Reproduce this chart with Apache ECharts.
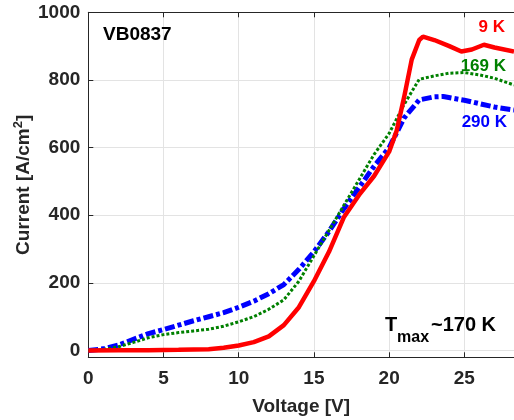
<!DOCTYPE html>
<html>
<head>
<meta charset="utf-8">
<script src="https://cdn.jsdelivr.net/npm/echarts@6/dist/echarts.min.js"></script>
<style>html,body{margin:0;padding:0;background:#fff;}#c{width:514px;height:420px;}</style>
</head>
<body>
<div id="c"></div>
<script>
// Voltage [V] / Current [A/cm^2]
const x9K  = [0,2,4,6,8,9,10,11,12,13,14,15,16,17,18,19,20,20.5,21,21.5,22,22.25,23,24,24.8,25.5,26.3,27,28.3];
const y9K  = [0,1,1,2,4,8,15,25,42,75,128,205,292,395,460,516,588,650,750,860,918,928,918,900,884,890,904,896,884];
const x169K = [0,1,2,3,4,5,6,7,8,9,10,11,12,13,14,15,16,17,18,19,20,21,22,23,24,25,26,27,28.3];
const y169K = [0,3,11,24,38,47,53,58,63,72,85,100,122,150,205,280,355,430,505,580,642,728,802,812,820,822,815,805,785];
const x290K = [0,1,2,3,4,5,6,7,8,9,10,11,12,13,14,15,16,17,18,19,20,21,22,23,23.6,25,26,27,28.3];
const y290K = [0,5,16,33,50,62,75,88,100,112,128,146,168,195,240,292,352,420,482,545,600,688,741,750,751,740,730,720,711];
const xTicks = [0,5,10,15,20,25];
const yTicks = [0,200,400,600,800,1000];
const seriesNames = ['9 K','169 K','290 K'];

const pairs = (xs, ys) => xs.map((v, i) => [v, ys[i]]);
const FONT = '"Liberation Sans", Arial, sans-serif';
const TXT = '#262626';

const chart = echarts.init(document.getElementById('c'), null, {renderer: 'canvas'});
chart.setOption({
  animation: false,
  backgroundColor: '#ffffff',
  grid: {left: 88.3, right: 0, top: 12.3, bottom: 62.7, containLabel: false, outerBoundsMode: 'none'},
  xAxis: [{
    type: 'value', min: 0, max: 28.3, interval: 5,
    name: 'Voltage [V]', nameLocation: 'middle', nameGap: 40, nameMoveOverlap: false,
    nameTextStyle: {fontFamily: FONT, fontWeight: 'bold', fontSize: 19, color: TXT},
    axisLine: {show: true, onZero: false, lineStyle: {color: TXT, width: 1}},
    axisTick: {show: true, inside: true, length: 5, lineStyle: {color: TXT}},
    axisLabel: {fontFamily: FONT, fontWeight: 'bold', fontSize: 19, color: TXT, margin: 12, showMaxLabel: false,
                formatter: v => String(v)},
    splitLine: {show: true, lineStyle: {color: '#e3e3e3', width: 1}}
  }, {
    type: 'value', min: 0, max: 28.3, interval: 5, position: 'top',
    axisLine: {show: true, onZero: false, lineStyle: {color: TXT, width: 1}},
    axisTick: {show: true, inside: true, length: 5, lineStyle: {color: TXT}},
    axisLabel: {show: false}, splitLine: {show: false}
  }],
  yAxis: {
    type: 'value', min: -20, max: 1000,
    name: '{a|Current [A/cm}{s|2}{a|]}', nameLocation: 'middle', nameGap: 54, nameRotate: 90, nameMoveOverlap: false,
    nameTextStyle: {
      rich: {
        a: {fontFamily: FONT, fontWeight: 'bold', fontSize: 19, color: TXT, lineHeight: 22},
        s: {fontFamily: FONT, fontWeight: 'bold', fontSize: 13, color: TXT, verticalAlign: 'top', lineHeight: 14}
      }
    },
    axisLine: {show: true, onZero: false, lineStyle: {color: TXT, width: 1}},
    axisTick: {show: true, inside: true, length: 5, lineStyle: {color: TXT}, customValues: yTicks},
    axisLabel: {fontFamily: FONT, fontWeight: 'bold', fontSize: 19, color: TXT, margin: 8, customValues: yTicks,
                formatter: v => String(v)},
    splitLine: {show: true, lineStyle: {color: '#e3e3e3', width: 1}}
  },
  series: [
    {name: seriesNames[2], type: 'line', data: pairs(x290K, y290K), showSymbol: false, smooth: false,
     lineStyle: {color: '#0000ff', width: 5, type: [10, 3, 4, 3]}, z: 3},
    {name: seriesNames[1], type: 'line', data: pairs(x169K, y169K), showSymbol: false, smooth: false,
     lineStyle: {color: '#008000', width: 3, type: [3, 2]}, z: 4},
    {name: seriesNames[0], type: 'line', data: pairs(x9K, y9K), showSymbol: false, smooth: false,
     lineStyle: {color: '#ff0000', width: 4.5}, z: 5}
  ],
  graphic: [
    {type: 'text', x: 103, y: 35, z: 100, style: {text: 'VB0837', font: 'bold 19px ' + FONT, fill: '#000', align: 'left', verticalAlign: 'middle'}},
    {type: 'text', x: 505, y: 27.5, z: 100, style: {text: seriesNames[0], font: 'bold 17px ' + FONT, fill: '#ff0000', align: 'right', verticalAlign: 'middle'}},
    {type: 'text', x: 506, y: 66, z: 100, style: {text: seriesNames[1], font: 'bold 17px ' + FONT, fill: '#008000', align: 'right', verticalAlign: 'middle'}},
    {type: 'text', x: 507, y: 122, z: 100, style: {text: seriesNames[2], font: 'bold 17px ' + FONT, fill: '#0000ff', align: 'right', verticalAlign: 'middle'}},
    {type: 'text', x: 385, y: 325.5, z: 100, style: {text: 'T', font: 'bold 20px ' + FONT, fill: '#000', align: 'left', verticalAlign: 'middle'}},
    {type: 'text', x: 397, y: 338, z: 100, style: {text: 'max', font: 'bold 16px ' + FONT, fill: '#000', align: 'left', verticalAlign: 'middle'}},
    {type: 'text', x: 431, y: 325.5, z: 100, style: {text: '~170 K', font: 'bold 20px ' + FONT, fill: '#000', align: 'left', verticalAlign: 'middle'}}
  ]
});
</script>
</body>
</html>
